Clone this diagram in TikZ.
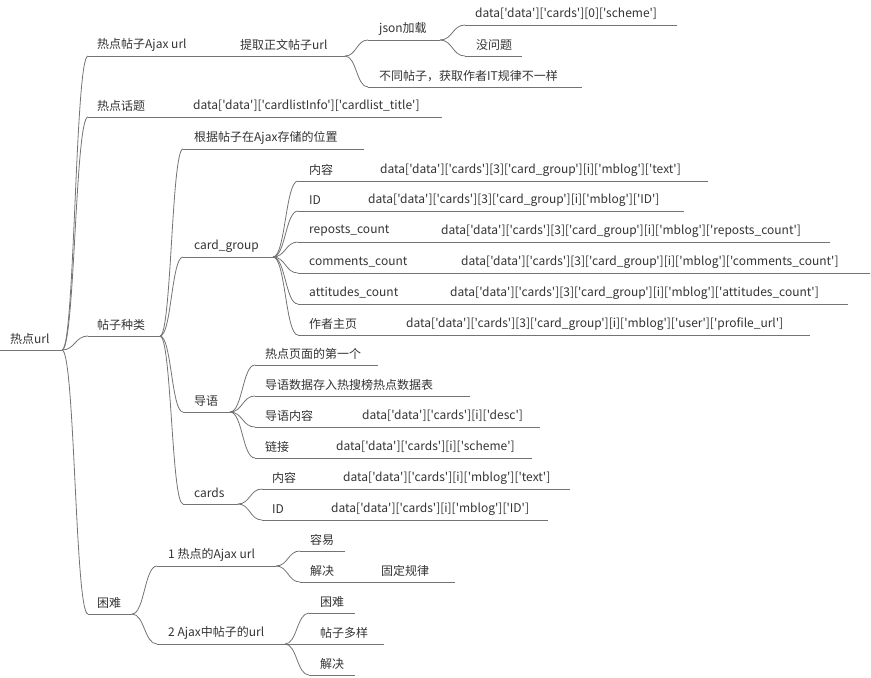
\documentclass[tikz,border=0pt]{standalone}
\usepackage{fontspec}
\newfontfamily\cjkf{Noto Sans CJK SC}
\usetikzlibrary{calc}
\tikzset{
  txt/.style={inner sep=0pt,anchor=west,text=black!80,font=\cjkf\fontsize{12}{14}\selectfont},
  ln/.style={draw=black!55,line width=0.8pt}
}
\newcommand\mnode[6]{%
  \node[txt] (#1) at (#2,#3) {#6};
  \coordinate (#1-s) at (#4,#3+11);
  \coordinate (#1-e) at (#5,#3+11);
  \draw[ln] (#1-s) -- (#1-e);}
\newcommand\mextra[4]{\node[txt] (#1) at (#2,#3) {#4};}
\newcommand\conn[2]{%
  \draw[ln] let \p1=(#1-e),\p2=(#2-s) in (\p1) .. controls ({0.5*\x1+0.5*\x2},\y1) and ({0.5*\x1+0.5*\x2},\y2) .. (\p2);}
\begin{document}
\begin{tikzpicture}[x=1pt,y=-1pt]
\useasboundingbox (0,0) rectangle (871,678);
\mnode{root}{10}{339}{0}{62}{热点url}
\mnode{a}{97}{45}{88}{205}{热点帖子Ajax url}
\mnode{a1}{240}{45}{230}{345}{提取正文帖子url}
\mnode{a11}{379}{29}{368}{440}{json加载}
\mnode{a111}{475}{14}{465}{677}{data['data']['cards'][0]['scheme']}
\mnode{a112}{476}{45}{465}{522}{没问题}
\mnode{a12}{379}{76}{368}{582}{不同帖子，获取作者IT规律不一样}
\mnode{b}{97}{106}{88}{155}{热点话题}
\mnode{b1}{193}{106}{183}{442}{data['data']['cardlistInfo']['cardlist\_title']}
\mnode{c}{97}{325}{88}{160}{帖子种类}
\mnode{c1}{194}{138}{183}{364}{根据帖子在Ajax存储的位置}
\mnode{c2}{194}{246}{183}{273}{card\_group}
\mnode{c21}{309}{170}{298}{708}{内容}
\mextra{c21d}{380}{170}{data['data']['cards'][3]['card\_group'][i]['mblog']['text']}
\mnode{c22}{309}{200}{298}{684}{ID}
\mextra{c22d}{368}{200}{data['data']['cards'][3]['card\_group'][i]['mblog']['ID']}
\mnode{c23}{309}{231}{298}{830}{reposts\_count}
\mextra{c23d}{441}{231}{data['data']['cards'][3]['card\_group'][i]['mblog']['reposts\_count']}
\mnode{c24}{309}{262}{298}{870}{comments\_count}
\mextra{c24d}{461}{262}{data['data']['cards'][3]['card\_group'][i]['mblog']['comments\_count']}
\mnode{c25}{309}{293}{298}{848}{attitudes\_count}
\mextra{c25d}{450}{293}{data['data']['cards'][3]['card\_group'][i]['mblog']['attitudes\_count']}
\mnode{c26}{309}{324}{298}{810}{作者主页}
\mextra{c26d}{406}{324}{data['data']['cards'][3]['card\_group'][i]['mblog']['user']['profile\_url']}
\mnode{c3}{194}{401}{183}{230}{导语}
\mnode{c31}{265}{354}{255}{378}{热点页面的第一个}
\mnode{c32}{265}{385}{255}{470}{导语数据存入热搜榜热点数据表}
\mnode{c33}{265}{416}{255}{540}{导语内容}
\mextra{c33d}{362}{416}{data['data']['cards'][i]['desc']}
\mnode{c34}{265}{447}{255}{532}{链接}
\mextra{c34d}{336}{447}{data['data']['cards'][i]['scheme']}
\mnode{c4}{194}{493}{183}{238}{cards}
\mnode{c41}{272}{478}{262}{570}{内容}
\mextra{c41d}{343}{478}{data['data']['cards'][i]['mblog']['text']}
\mnode{c42}{272}{509}{262}{548}{ID}
\mextra{c42d}{331}{509}{data['data']['cards'][i]['mblog']['ID']}
\mnode{d}{97}{603}{88}{132}{困难}
\mnode{d1}{168}{555}{157}{276}{1 热点的Ajax url}
\mnode{d11}{310}{540}{300}{345}{容易}
\mnode{d12}{310}{571}{300}{455}{解决}
\mextra{d12d}{381}{571}{固定规律}
\mnode{d2}{168}{633}{157}{285}{2 Ajax中帖子的url}
\mnode{d21}{320}{602}{309}{355}{困难}
\mnode{d22}{320}{633}{309}{384}{帖子多样}
\mnode{d23}{320}{664}{309}{355}{解决}
\conn{root}{a}\conn{root}{b}\conn{root}{c}\conn{root}{d}
\conn{a}{a1}\conn{a1}{a11}\conn{a1}{a12}\conn{a11}{a111}\conn{a11}{a112}
\conn{b}{b1}
\conn{c}{c1}\conn{c}{c2}\conn{c}{c3}\conn{c}{c4}
\conn{c2}{c21}\conn{c2}{c22}\conn{c2}{c23}\conn{c2}{c24}\conn{c2}{c25}\conn{c2}{c26}
\conn{c3}{c31}\conn{c3}{c32}\conn{c3}{c33}\conn{c3}{c34}
\conn{c4}{c41}\conn{c4}{c42}
\conn{d}{d1}\conn{d}{d2}
\conn{d1}{d11}\conn{d1}{d12}
\conn{d2}{d21}\conn{d2}{d22}\conn{d2}{d23}
\end{tikzpicture}
\end{document}
